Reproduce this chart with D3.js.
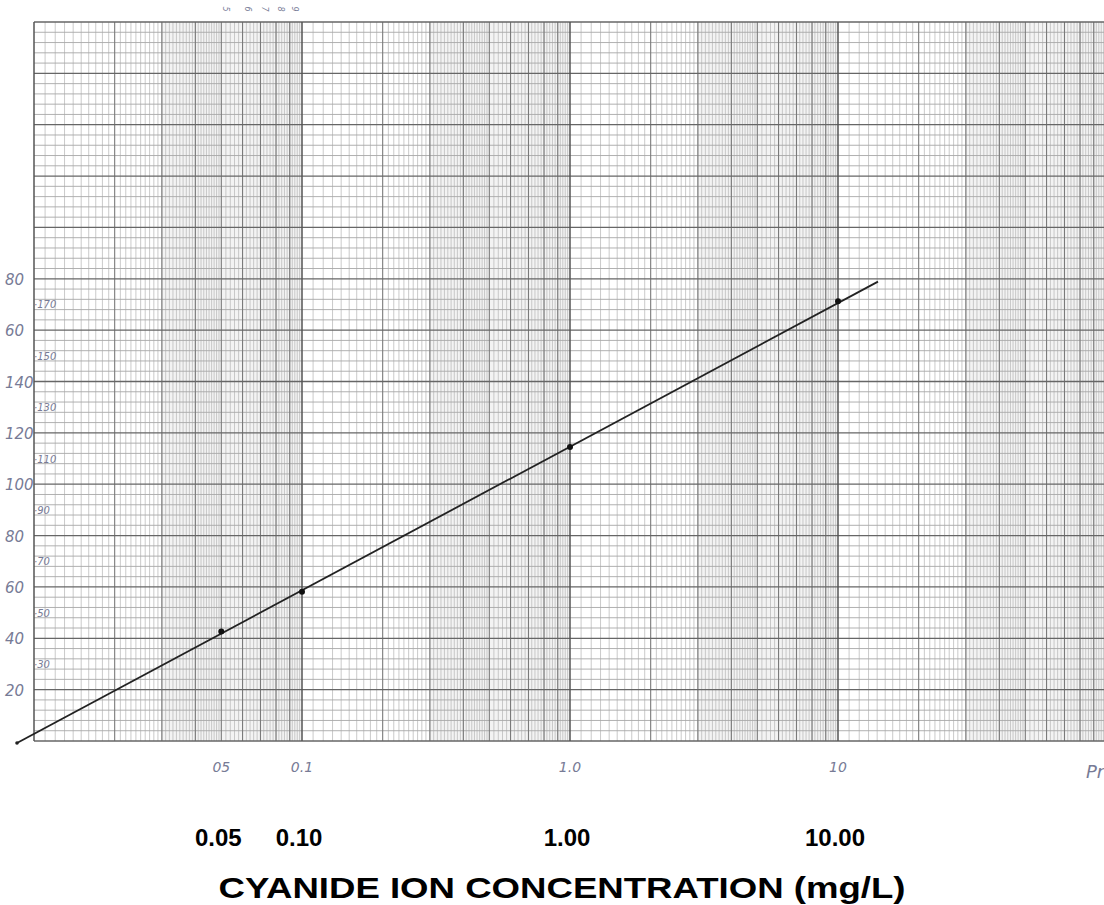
<!DOCTYPE html>
<meta charset="utf-8" />
<style>
  body { margin: 0; background: #fff; }
  .hand { font-family: "DejaVu Sans", sans-serif; font-style: italic; fill: #777b96; }
  .bold { font-family: "Liberation Sans", Arial, sans-serif; font-weight: bold; fill: #000; }
</style>
<svg width="1104" height="905"></svg>
<script src="https://d3js.org/d3.v7.min.js"></script>
<script>
  // calibration points
  var concentrations = [0.05, 0.1, 1.0, 10.0];
  var readings = [42.6, 58.1, 114.5, 171.3];

  // the ruled best-fit line (start and end of the pencil line)
  var fitConc = [0.00864, 14.1];
  var fitVals = [-0.8, 178.9];

  // bold labels under the paper
  var bottomTicks = [0.05, 0.1, 1.0, 10.0];
  var bottomTickLabels = ["0.05", "0.10", "1.00", "10.00"];
  var xTitle = "CYANIDE ION CONCENTRATION (mg/L)";

  // pencil labels on the paper
  var handXTicks = [0.05, 0.1, 1.0, 10.0];
  var handXLabels = ["05", "0.1", "1.0", "10"];
  var leftVals = [20, 40, 60, 80, 100, 120, 140, 160, 180];
  var leftLabels = ["20", "40", "60", "80", "100", "120", "140", "60", "80"];
  var innerVals = [30, 50, 70, 90, 110, 130, 150, 170];
  var innerLabels = ["30", "50", "70", "90", "110", "130", "150", "170"];
  var topVals = [0.05, 0.06, 0.07, 0.08, 0.09];
  var topLabels = ["5", "6", "7", "8", "9"];

  var svg = d3.select("svg");

  var x = d3.scaleLog().domain([0.01, 100]).range([34, 1106]);
  var y = d3.scaleLinear().domain([0, 280]).range([741, 22]);

  var gridTop = y(280), gridBottom = y(0);

  // grey tint where the log rulings bunch up
  var tint = svg.append("g");
  [0.01, 0.1, 1, 10].forEach(function(d) {
    tint.append("rect")
      .attr("x", x(d * 3))
      .attr("y", gridTop)
      .attr("width", x(d * 10) - x(d * 3))
      .attr("height", gridBottom - gridTop)
      .attr("fill", "#f3f3f3");
  });

  // vertical rulings
  var vFine = [], vMid = [], vMajor = [];
  [0.01, 0.1, 1, 10].forEach(function(d) {
    for (var k = 1; k < 10; k++) {
      if (k == 1) vMajor.push(d); else vMid.push(d * k);
    }
    for (var s = 1.1; s < 1.999; s += 0.1) vFine.push(d * s);
    for (var s = 2.1; s < 4.999; s += 0.1) vFine.push(d * s);
    for (var s = 5.2; s < 9.999; s += 0.2) vFine.push(d * s);
  });
  vMajor.push(100);

  var grid = svg.append("g");
  grid.selectAll(".vf").data(vFine).enter().append("line")
    .attr("x1", d => x(d)).attr("x2", d => x(d))
    .attr("y1", gridTop).attr("y2", gridBottom)
    .attr("stroke", "#bcbcbc").attr("stroke-width", 0.8);

  // horizontal rulings
  var hFine = d3.range(0, 281, 4).filter(d => d % 20 != 0);
  var hMajor = d3.range(0, 281, 20);
  grid.selectAll(".hf").data(hFine).enter().append("line")
    .attr("x1", x(0.01)).attr("x2", 1104)
    .attr("y1", d => y(d)).attr("y2", d => y(d))
    .attr("stroke", "#a8a8a8").attr("stroke-width", 0.9);

  grid.selectAll(".vm").data(vMid).enter().append("line")
    .attr("x1", d => x(d)).attr("x2", d => x(d))
    .attr("y1", gridTop).attr("y2", gridBottom)
    .attr("stroke", "#7a7a7a").attr("stroke-width", 1.1);
  grid.selectAll(".hm").data(hMajor).enter().append("line")
    .attr("x1", x(0.01)).attr("x2", 1104)
    .attr("y1", d => y(d)).attr("y2", d => y(d))
    .attr("stroke", "#666").attr("stroke-width", 1.3);
  grid.selectAll(".vM").data(vMajor).enter().append("line")
    .attr("x1", d => x(d)).attr("x2", d => x(d))
    .attr("y1", gridTop).attr("y2", gridBottom)
    .attr("stroke", "#555").attr("stroke-width", 1.5);

  // the fitted line and the points
  var line = d3.line().x(d => x(d[0])).y(d => y(d[1]));
  svg.append("path")
    .datum(d3.zip(fitConc, fitVals))
    .attr("d", line)
    .attr("fill", "none")
    .attr("stroke", "#222")
    .attr("stroke-width", 1.8);

  svg.append("circle")
    .attr("cx", x(fitConc[0])).attr("cy", y(fitVals[0]))
    .attr("r", 1.8).attr("fill", "#222");

  svg.selectAll(".pt").data(d3.zip(concentrations, readings)).enter().append("circle")
    .attr("cx", d => x(d[0])).attr("cy", d => y(d[1]))
    .attr("r", 3).attr("fill", "#111");

  // pencil labels
  var hand = svg.append("g").attr("class", "hand");
  hand.selectAll(".yl").data(d3.zip(leftVals, leftLabels)).enter().append("text")
    .attr("x", 5).attr("y", d => y(d[0]) + 6)
    .attr("font-size", 15)
    .text(d => d[1]);
  hand.selectAll(".yi").data(d3.zip(innerVals, innerLabels)).enter().append("text")
    .attr("x", 34).attr("y", d => y(d[0]) + 4)
    .attr("font-size", 10)
    .text(d => "\u00b7" + d[1]);
  hand.selectAll(".xl").data(d3.zip(handXTicks, handXLabels)).enter().append("text")
    .attr("x", d => x(d[0])).attr("y", 772)
    .attr("text-anchor", "middle")
    .attr("font-size", 14)
    .text(d => d[1]);
  hand.append("text")
    .attr("x", 1086).attr("y", 778)
    .attr("font-size", 18)
    .text("Pr");
  hand.selectAll(".tl").data(d3.zip(topVals, topLabels)).enter().append("text")
    .attr("transform", d => "translate(" + (x(d[0]) + 2) + ",9) rotate(90)")
    .attr("text-anchor", "middle")
    .attr("font-size", 8)
    .text(d => d[1]);

  // typed labels
  svg.selectAll(".bl").data(d3.zip(bottomTicks, bottomTickLabels)).enter().append("text")
    .attr("class", "bold")
    .attr("x", d => x(d[0]) - 3).attr("y", 846)
    .attr("text-anchor", "middle")
    .attr("font-size", 24)
    .text(d => d[1]);

  svg.append("text")
    .attr("class", "bold")
    .attr("x", 562).attr("y", 898)
    .attr("text-anchor", "middle")
    .attr("font-size", 30)
    .attr("textLength", 687)
    .attr("lengthAdjust", "spacingAndGlyphs")
    .text(xTitle);
</script>
